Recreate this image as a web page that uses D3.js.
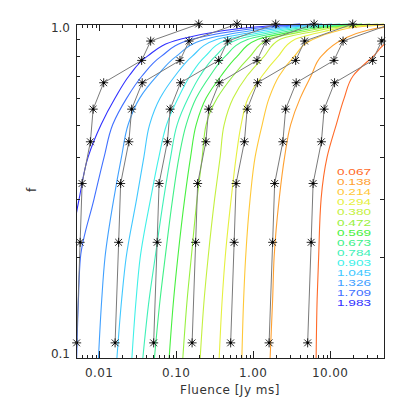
<!DOCTYPE html>
<html><head><meta charset="utf-8">
<script src="https://cdn.jsdelivr.net/npm/d3@7"></script>
<style>body{margin:0;background:#fff}</style>
</head><body>
<svg id="c" width="407" height="407"></svg>
<script>
// ---------- DATA ----------
// cumulative fraction levels at which the coloured curves were read
const fLevels = [0.1, 0.15, 0.2, 0.3, 0.4, 0.5, 0.6, 0.7, 0.8, 0.9, 0.95, 0.98, 1.0];
// fluence [Jy ms] of each coloured curve at those levels
const c1983 = [0.00311, 0.00362, 0.00408, 0.0055, 0.00719, 0.0106, 0.0161, 0.0245, 0.042, 0.113, 0.351, 1.06, 4.08];
const c1709 = [0.0051, 0.00538, 0.00571, 0.0086, 0.0116, 0.015, 0.0228, 0.0362, 0.0638, 0.161, 0.533, 1.57, 5.83];
const c1326 = [0.00979, 0.0108, 0.0119, 0.0155, 0.0195, 0.0238, 0.0336, 0.0566, 0.1, 0.238, 0.81, 2.24, 7.87];
const c1045 = [0.017, 0.0196, 0.0224, 0.0307, 0.0381, 0.0452, 0.0619, 0.097, 0.161, 0.341, 1.16, 3.11, 10.6];
const c0903 = [0.0266, 0.0302, 0.0341, 0.0466, 0.0597, 0.0752, 0.106, 0.152, 0.238, 0.473, 1.57, 4.08, 13.5];
const c0784 = [0.0369, 0.0446, 0.0533, 0.0688, 0.0848, 0.103, 0.143, 0.205, 0.321, 0.638, 2.05, 5.18, 17.1];
const c0673 = [0.0522, 0.0619, 0.0719, 0.09, 0.109, 0.135, 0.182, 0.276, 0.433, 0.86, 2.68, 6.57, 21.1];
const c0569 = [0.081, 0.0927, 0.105, 0.129, 0.154, 0.182, 0.245, 0.384, 0.619, 1.16, 3.51, 8.35, 26.0];
const c0472 = [0.122, 0.139, 0.157, 0.187, 0.218, 0.245, 0.341, 0.55, 0.913, 1.57, 4.59, 10.6, 33.1];
const c0380 = [0.205, 0.231, 0.26, 0.316, 0.373, 0.42, 0.55, 0.835, 1.39, 2.24, 6.19, 13.5, 42.0];
const c0294 = [0.362, 0.396, 0.433, 0.518, 0.601, 0.698, 0.86, 1.31, 2.11, 3.51, 8.35, 17.1, 53.3];
const c0214 = [0.713, 0.752, 0.798, 0.913, 1.06, 1.31, 1.61, 2.18, 3.41, 6.01, 11.6, 23.1, 81.0];
const c0138 = [1.66, 1.79, 1.87, 2.18, 2.56, 3.07, 4.08, 5.66, 7.63, 14.8, 26.8, 56.6, 199];
const c0067 = [6.57, 6.77, 7.08, 7.63, 9.13, 12.0, 15.2, 19.9, 36.2, 63.8, 116, 231, 566];

const legendLabels = ["0.067", "0.138", "0.214", "0.294", "0.380", "0.472", "0.569",
                      "0.673", "0.784", "0.903", "1.045", "1.326", "1.709", "1.983"];
const curveValues = [c0067, c0138, c0214, c0294, c0380, c0472, c0569,
                     c0673, c0784, c0903, c1045, c1326, c1709, c1983];
const curveColors = ["#ff6a28", "#ffa030", "#ffc838", "#e6f040", "#c4f040", "#98f040", "#48f040",
                     "#40f088", "#40f0b8", "#40f0e8", "#40c8ff", "#40a0ff", "#4070ff", "#3030ff"];

// black model lines with asterisks: fraction levels k/9 and fluence of each line
const mLevels = [0.111, 0.222, 0.333, 0.444, 0.556, 0.667, 0.778, 0.889, 1.0];
const m1 = [0.0051, 0.00566, 0.0060, 0.00769, 0.00835, 0.01144, 0.0356, 0.0466, 0.196];
const m2 = [0.0161, 0.0179, 0.0190, 0.0243, 0.0264, 0.0362, 0.112, 0.147, 0.618];
const m3 = [0.051, 0.0566, 0.060, 0.0769, 0.0835, 0.114, 0.356, 0.466, 1.96];
const m4 = [0.161, 0.179, 0.190, 0.243, 0.264, 0.362, 1.12, 1.47, 6.18];
const m5 = [0.51, 0.566, 0.60, 0.769, 0.835, 1.14, 3.56, 4.66, 19.6];
const m6 = [1.61, 1.79, 1.90, 2.43, 2.64, 3.62, 11.2, 14.7, 61.8];
const m7 = [5.10, 5.66, 6.00, 7.69, 8.35, 11.4, 35.6, 46.6, 196];
const modelValues = [m1, m2, m3, m4, m5, m6, m7];

const xTickValues = [0.01, 0.1, 1, 10];
const xTickLabels = ["0.01", "0.10", "1.00", "10.00"];
const yTickValues = [0.1, 1.0];
const yTickLabels = ["0.1", "1.0"];

// ---------- DRAW ----------
const L = 76, R = 384, T = 24, B = 358;
const svg = d3.select("#c");
const x = d3.scaleLog().domain([0.005, 50]).range([L, R]);
const y = d3.scaleLog().domain([0.1, 1]).range([B, T]);
const font = "'DejaVu Sans', sans-serif";

svg.append("defs").append("clipPath").attr("id", "clip")
  .append("rect").attr("x", L).attr("y", T - 1).attr("width", R - L).attr("height", B - T + 1);

const plot = svg.append("g").attr("clip-path", "url(#clip)");

// coloured curves
curveValues.forEach((vals, i) => {
  const pts = vals.map((v, j) => [v, fLevels[j]]);
  plot.append("path")
    .attr("d", d3.line().x(d => x(d[0])).y(d => y(d[1])).curve(d3.curveMonotoneY)(pts))
    .attr("fill", "none").attr("stroke", curveColors[i]).attr("stroke-width", 1.1);
});

// model lines
modelValues.forEach(vals => {
  const pts = vals.map((v, j) => [v, mLevels[j]]);
  plot.append("path")
    .attr("d", d3.line().x(d => x(d[0])).y(d => y(d[1]))(pts))
    .attr("fill", "none").attr("stroke", "#7a7a7a").attr("stroke-width", 1);
});
const star = "M-4.5,0H4.5M0,-4.5V4.5M-3.4,-3.4L3.4,3.4M-3.4,3.4L3.4,-3.4";
modelValues.forEach(vals => {
  vals.forEach((v, j) => {
    if (v < 0.005 || v > 50) return;
    const g = svg.append("g").attr("transform", `translate(${x(v)},${y(mLevels[j])})`);
    g.append("path").attr("d", star)
      .attr("fill", "none").attr("stroke", "#111").attr("stroke-width", 0.9);
    g.append("circle").attr("r", 1.3).attr("fill", "#000");
  });
});

// frame
const ax = svg.append("g").attr("stroke", "#222").attr("stroke-width", 1).attr("shape-rendering", "crispEdges");
ax.append("rect").attr("x", L).attr("y", T).attr("width", R - L).attr("height", B - T).attr("fill", "none");

// x ticks (bottom and top, inward)
x.ticks().filter(v => v >= 0.005 && v <= 50).forEach(v => {
  const major = xTickValues.some(t => Math.abs(t - v) / t < 1e-6);
  const len = major ? 7 : 3.5;
  const px = Math.round(x(v)) + 0.5;
  ax.append("line").attr("x1", px).attr("x2", px).attr("y1", B).attr("y2", B - len);
  ax.append("line").attr("x1", px).attr("x2", px).attr("y1", T).attr("y2", T + len);
});
// y ticks (left and right, inward)
y.ticks().forEach(v => {
  const major = yTickValues.some(t => Math.abs(t - v) / t < 1e-6);
  const len = major ? 7 : 4;
  const py = Math.round(y(v)) + 0.5;
  ax.append("line").attr("x1", L).attr("x2", L + len).attr("y1", py).attr("y2", py);
  ax.append("line").attr("x1", R).attr("x2", R - len).attr("y1", py).attr("y2", py);
});

// tick labels
const txt = svg.append("g").attr("font-family", font).attr("font-size", 12).attr("fill", "#333");
xTickValues.forEach((v, i) => {
  txt.append("text").attr("x", x(v)).attr("y", 377).attr("text-anchor", "middle")
    .attr("letter-spacing", 0.4).text(xTickLabels[i]);
});
txt.append("text").attr("x", 70).attr("y", 358).attr("text-anchor", "end").text(yTickLabels[0]);
txt.append("text").attr("x", 70).attr("y", 32).attr("text-anchor", "end").text(yTickLabels[1]);
txt.append("text").attr("x", (L + R) / 2).attr("y", 394).attr("text-anchor", "middle")
  .attr("letter-spacing", 0.5).text("Fluence [Jy ms]");
txt.append("text").attr("transform", "translate(36,190) rotate(-90)").attr("text-anchor", "middle").text("f");

// legend: compact line boxes, glyphs stretched to the reference width
legendLabels.forEach((s, i) => {
  svg.append("text").attr("x", 337).attr("y", 175 + i * 10.1)
    .attr("font-family", "'Liberation Sans', Arial, sans-serif").attr("font-size", 9)
    .attr("textLength", 34).attr("lengthAdjust", "spacingAndGlyphs")
    .attr("fill", curveColors[i]).text(s);
});
</script>
</body></html>
